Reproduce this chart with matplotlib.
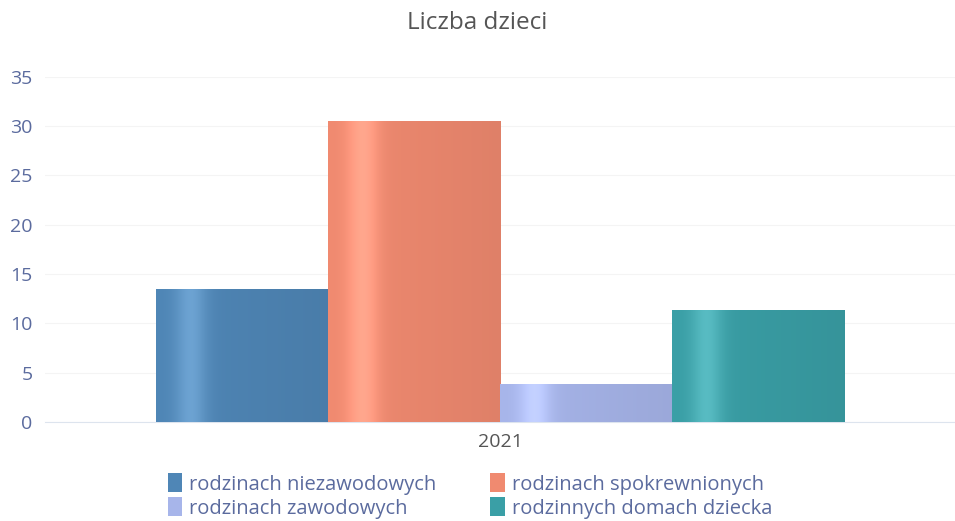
import numpy as np
import matplotlib
matplotlib.use('Agg')
import matplotlib.pyplot as plt
from matplotlib.colors import to_rgb

# Data
categories = ['2021']
series_names = ['rodzinach niezawodowych', 'rodzinach spokrewnionych',
                'rodzinach zawodowych', 'rodzinnych domach dziecka']
values = [13.5, 30.5, 3.9, 11.3]
colors = ['#4f86b6', '#f08a70', '#a7b5ea', '#3a9fa6']

plt.rcParams['font.family'] = ['Open Sans', 'DejaVu Sans']

fig = plt.figure(figsize=(9.55, 5.21), dpi=100)
ax = fig.add_axes([0.047, 0.19, 0.953, 0.663])

bar_w = 0.189
x = np.arange(len(categories))
offsets = (np.arange(len(values)) - (len(values) - 1) / 2) * bar_w

handles = []
for i, (name, v, c) in enumerate(zip(series_names, values, colors)):
    bars = ax.bar(x + offsets[i], [v], width=bar_w, color=c, label=name, zorder=2)
    handles.append(bars)
    # soft cylinder shading across each bar
    base = np.array(to_rgb(c))
    t = np.linspace(0, 1, 200)
    glow = np.exp(-((t - 0.2) / 0.09) ** 2)
    shade = 1.0 - 0.07 * t
    grad = np.clip(base[None, :] * shade[:, None] + 0.12 * glow[:, None], 0, 1)
    for p in bars.patches:
        im = ax.imshow(grad[None, :, :], aspect='auto', zorder=3,
                       extent=(p.get_x(), p.get_x() + p.get_width(), 0, p.get_height()))
        im.set_clip_path(p)

ax.set_xlim(-0.5, 0.5)
ax.set_ylim(0, 35)
ax.set_yticks(np.arange(0, 36, 5))
ax.set_xticks(x)
ax.set_xticklabels(categories)
ax.tick_params(axis='both', length=0, labelsize=14, colors='#5b6b9e', pad=9)
ax.tick_params(axis='x', colors='#555555', pad=8)
ax.grid(axis='y', color='#f4f4f4', linewidth=0.8, zorder=0)
for s in ['top', 'right', 'left']:
    ax.spines[s].set_visible(False)
ax.spines['bottom'].set_color('#dde4ee')

fig.suptitle('Liczba dzieci', y=0.978, fontsize=17.5, color='#555555')

order = [0, 2, 1, 3]
leg = fig.legend([handles[i] for i in order], [series_names[i] for i in order],
                 ncol=2, loc='lower center', bbox_to_anchor=(0.492, -0.03),
                 frameon=False, fontsize=14.5, handlelength=0.7, handleheight=1.1,
                 handletextpad=0.35, columnspacing=2.7, labelspacing=0.12)
for t in leg.get_texts():
    t.set_color('#5b6b9e')

fig.savefig('out.png', dpi=100)
